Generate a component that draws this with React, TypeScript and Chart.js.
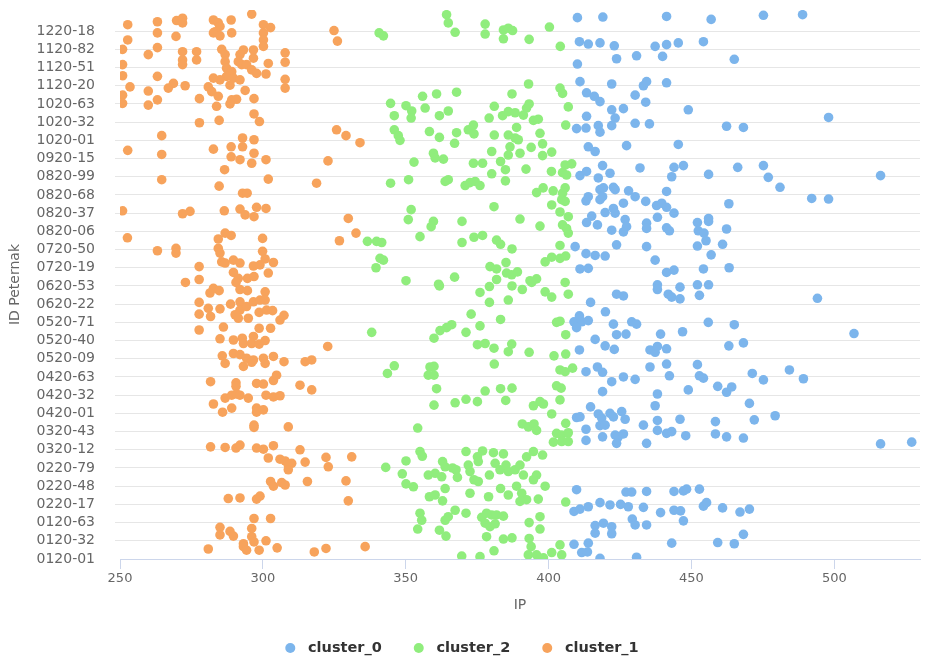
import { useEffect, useRef } from 'react';
import { Chart, registerables } from 'chart.js';

Chart.register(...registerables);

// Y axis: farmer IDs (row index of the ID list); one tick label every 31 IDs
const TICK_LABELS = [
  '0120-01', '0120-32', '0120-63', '0220-17', '0220-48', '0220-79', '0320-12', '0320-43',
  '0420-01', '0420-32', '0420-63', '0520-09', '0520-40', '0520-71', '0620-22', '0620-53',
  '0720-19', '0720-50', '0820-06', '0820-37', '0820-68', '0820-99', '0920-15', '1020-01',
  '1020-32', '1020-63', '1120-20', '1120-51', '1120-82', '1220-18',
];
const ROWS_PER_TICK = 31;
const ROW_MAX = 935;

const IP_MIN = 250;
const IP_MAX = 530;
const IP_STEP = 50;

const SERIES_NAMES = ['cluster_0', 'cluster_2', 'cluster_1'];
const SERIES_COLORS = ['#7cb5ec', '#90ed7d', '#f7a35c'];

// [IP, ID row]
const CLUSTER_0: [number, number][] = [
  [410.1,922],[419.0,923],[410.8,881],[413.9,877],[418.0,879],[423.0,874],[423.8,852],[430.8,857],[410.1,843],[411.0,813],[422.1,809],[413.3,794],[416.0,788],[418.0,779],[430.3,790],[433.2,806],[434.3,813],[434.0,778],[422.1,765],[426.2,767],[423.3,751],[422.1,738],[413.3,754],[409.8,733],[413.1,734],[417.4,738],[418.0,727],[430.3,742],[435.3,741],[413.9,702],[416.3,694],[427.3,704],[411.0,653],[413.3,660],[418.9,670],[417.4,649],[421.5,657],[432.0,666],[418.0,629],[419.2,632],[418.0,612],[418.9,617],[422.7,633],[423.3,629],[413.9,617],[413.1,610],[428.0,627],[430.3,617],[434.0,609],[426.2,606],[422.7,597],[415.1,584],[419.8,590],[423.3,589],[413.3,573],[417.1,569],[422.1,560],[426.8,578],[427.3,566],[426.2,557],[434.3,572],[434.3,563],[409.3,532],[423.8,535],[413.1,520],[416.3,517],[419.8,516],[434.3,532],[411.0,494],[413.9,495],
  [441.3,924],[456.9,919],[475.2,926],[488.9,927],[437.3,873],[441.3,876],[445.4,879],[454.2,881],[439.9,856],[465.0,851],[441.3,811],[448.9,765],[498.0,752],[462.3,737],[468.2,735],[445.4,706],[443.9,667],[447.2,670],[443.1,651],[456.0,655],[466.2,667],[475.2,670],[476.9,650],[481.0,633],[516.2,653],[441.3,626],[437.8,602],[439.6,606],[441.3,599],[443.9,589],[463.1,605],[492.1,614],[498.0,613],[438.1,582],[452.1,573],[456.0,580],[456.0,575],[441.3,564],[442.3,559],[452.4,559],[454.4,555],[455.1,542],[462.3,562],[452.1,533],[460.9,536],[456.9,518],[437.3,509],[441.3,488],[443.9,492],[454.2,494],[463.2,496],
  [438.1,467],[438.1,459],[446.0,463],[452.1,467],[456.0,467],[441.9,451],[443.1,446],[446.0,443],[452.8,449],[494.1,444],[455.9,403],[465.0,399],[439.2,383],[446.9,387],[506.9,384],[435.5,356],[437.3,352],[438.1,362],[441.3,358],[463.1,363],[468.2,368],[435.5,327],[441.3,332],[442.3,312],[452.1,331],[452.8,312],[454.2,308],[471.3,316],[475.2,305],[484.3,322],[489.2,307],[448.9,288],[459.2,294],[462.3,284],[464.1,293],[438.1,281],[437.3,261],[470.3,265],[438.1,236],[438.1,219],[441.3,214],[443.1,217],[446.0,238],[448.0,210],[458.4,234],[458.4,213],[462.3,208],[468.2,206],[472.0,237],[479.3,244],[516.2,196],[527.1,199],[443.9,115],[447.2,116],[448.3,119],[452.8,119],[454.2,90],[455.3,96],[460.9,87],[439.2,79],[443.9,83],[446.2,82],[467.0,80],[470.3,85],[447.2,65],[468.2,42],[443.1,27],[459.2,28],[465.0,26],
  [423.8,451],[426.2,448],[414.7,437],[419.9,421],[408.9,404],[410.8,414],[411.6,404],[409.8,394],[413.9,406],[422.7,400],[429.1,404],[430.8,400],[416.3,374],[423.8,382],[427.1,383],[419.8,363],[423.0,357],[410.8,356],[413.1,319],[417.1,327],[418.9,318],[422.1,302],[426.2,310],[430.3,306],[418.9,285],[414.7,259],[409.8,241],[411.0,242],[413.1,221],[413.1,202],[417.4,247],[418.6,240],[418.0,227],[419.8,228],[418.9,208],[421.5,248],[422.7,242],[425.6,251],[426.8,238],[423.3,211],[424.4,208],[426.2,213],[423.8,197],[433.2,228],[434.3,197],[409.8,118],[408.9,81],[411.0,85],[413.9,89],[418.0,96],[421.5,92],[427.1,114],[429.1,114],[434.3,115],[425.2,93],[427.9,89],[433.2,88],[416.3,57],[419.2,61],[422.1,55],[416.3,44],[422.1,43],[429.3,68],[430.3,58],[434.3,58],[408.9,25],[411.6,11],[413.6,12],[413.9,27],[418.0,1],[430.8,3],
];

const CLUSTER_2: [number, number][] = [
  [340.7,896],[336.6,541],[339.8,541],[341.0,512],[339.6,496],[338.1,386],
  [364.3,927],[364.9,913],[367.3,897],[342.2,891],[377.8,911],[377.8,894],[384.2,901],[385.9,904],[387.4,900],[384.2,886],[393.2,885],[400.3,906],[404.1,873],[393.0,809],[404.0,802],[404.9,793],[367.8,795],[360.8,792],[355.9,788],[344.7,776],[350.1,772],[352.1,763],[351.9,751],[346.0,755],[356.8,768],[361.8,755],[364.9,763],[387.2,792],[381.0,771],[379.2,751],[383.9,755],[385.9,762],[388.3,760],[391.2,756],[392.3,768],[393.2,775],[394.7,747],[396.4,749],[406.9,770],[406.0,739],[346.0,731],[347.4,721],[348.0,713],[358.3,728],[361.8,718],[367.8,726],[367.1,708],[371.9,731],[373.7,739],[373.9,724],[381.0,722],[388.8,735],[385.9,722],[388.3,717],[389.4,714],[386.5,702],[385.9,688],[390.0,691],[393.9,701],[397.0,725],[397.9,707],[397.9,687],[401.1,693],[380.1,694],[383.2,677],[359.7,691],[360.3,683],[363.2,681],[352.9,676],[373.7,674],[376.9,674],[384.9,663],[384.9,644],[380.1,656],[392.1,664],[401.0,660],[405.8,671],[408.1,673],[404.9,658],[406.3,654],[344.7,640],[351.0,646],[363.8,643],[364.9,646],[370.8,636],[372.5,641],[374.3,643],[376.0,636],[395.8,624],[398.1,632],[401.6,627],[404.9,623],[405.8,632],[404.6,612],[405.8,609],[380.9,600],[401.1,603],[351.9,595],[350.9,578],[359.7,575],[358.9,566],[369.7,575],[390.0,579],[397.0,567],[404.0,591],[406.9,583],[404.9,569],[406.3,563],[406.9,555],[355.0,549],[341.6,539],[369.7,539],[373.9,548],[376.9,551],[381.8,543],[383.2,536],[387.2,528],[404.0,534],[342.2,509],[379.5,498],[381.8,494],[385.1,505],[385.3,487],[387.1,484],[389.1,489],[398.8,506],[401.1,514],[404.0,512],[406.0,516],[350.1,474],[361.5,468],[367.1,480],[381.8,476],[393.5,474],[395.8,477],[405.8,471],
  [361.8,465],[376.0,454],[379.3,464],[379.3,437],[387.2,465],[390.8,459],[394.1,471],[385.9,441],[398.8,455],[401.1,446],[406.9,451],[372.9,417],[383.2,408],[376.0,397],[366.1,399],[364.3,394],[362.0,389],[359.9,376],[371.1,386],[402.8,403],[404.0,405],[406.0,382],[375.1,365],[377.8,367],[380.9,359],[385.9,353],[387.1,366],[393.2,352],[401.9,346],[406.0,349],[346.0,329],[343.6,316],[358.5,327],[359.9,328],[357.9,313],[359.9,313],[381.0,332],[404.0,322],[405.8,319],[408.4,325],[360.8,290],[377.8,286],[383.2,290],[387.2,291],[385.0,270],[402.8,295],[404.4,291],[359.9,262],[367.3,266],[371.1,272],[375.1,268],[394.7,261],[397.0,268],[398.2,264],[404.0,271],[401.1,247],[354.2,223],[390.8,230],[392.9,225],[394.9,230],[395.8,219],[406.0,231],[402.8,214],[404.6,211],[406.9,215],[401.7,199],[404.6,200],[406.9,200],[355.0,183],[355.8,175],[350.1,167],[343.0,156],[348.8,145],[362.9,166],[363.8,157],[366.4,155],[367.6,152],[357.9,143],[360.3,146],[362.6,140],[368.1,139],[350.1,128],[352.7,123],[363.8,120],[371.1,183],[375.1,174],[376.9,184],[380.7,181],[384.2,179],[375.4,166],[371.9,160],[372.5,149],[379.3,143],[381.3,163],[383.0,152],[385.1,160],[385.9,149],[388.3,152],[390.0,160],[392.3,174],[394.7,183],[397.9,177],[391.2,143],[395.8,143],[394.7,135],[398.8,124],[373.9,135],[375.4,132],[372.5,112],[383.2,120],[385.9,109],[388.8,124],[390.6,112],[392.3,101],[396.4,102],[390.0,98],[358.3,106],[360.3,109],[362.9,99],[379.0,106],[406.0,97],[355.0,78],[355.6,66],[354.2,51],[367.3,83],[364.9,72],[363.8,66],[371.1,78],[376.6,71],[378.3,78],[380.1,75],[381.8,75],[384.2,73],[377.8,61],[379.5,55],[381.3,60],[378.3,38],[361.8,49],[364.1,39],[393.2,62],[397.0,72],[397.0,51],[393.2,35],[384.2,34],[387.2,36],[380.9,14],[393.9,21],[392.9,7],[395.8,7],[398.2,2],[401.1,11],[404.0,24],[404.6,7],[369.6,5],[376.0,4],
];

const CLUSTER_1: [number, number][] = [
  [252.7,910],[263.1,915],[269.8,917],[271.9,921],[271.9,913],[282.7,918],[284.4,913],[285.0,907],[283.3,898],[282.7,896],[288.9,918],[296.1,928],[300.2,910],[302.7,905],[289.1,896],[263.1,896],[252.7,884],[269.6,890],[285.0,891],[300.2,896],[300.2,884],[300.2,873],[324.9,900],[326.1,882],[250.9,868],[263.1,871],[259.9,859],[271.9,864],[271.9,850],[271.9,842],[276.8,864],[276.8,850],[285.6,868],[286.8,859],[286.8,847],[293.2,867],[292.0,859],[291.4,847],[292.6,842],[296.7,867],[296.7,853],[307.8,862],[307.8,846],[301.9,844],[250.9,842],[250.9,823],[287.3,836],[289.1,830],[287.3,822],[289.7,819],[292.0,816],[285.0,816],[282.7,819],[288.5,807],[294.3,842],[296.1,833],[297.8,827],[301.1,826],[263.1,822],[307.8,817],[307.8,802],[253.5,804],[268.7,810],[266.9,802],[272.8,806],[280.9,804],[282.1,796],[293.8,798],[259.9,797],[250.9,790],[250.9,776],[263.1,782],[259.9,773],[277.8,784],[284.4,788],[283.8,771],[289.1,782],[290.8,783],[288.5,775],[296.9,784],[296.9,758],[298.8,745],[277.8,743],[284.7,747],[325.8,731],[329.1,721],[334.0,709],[264.6,721],[252.7,696],[264.6,689],[282.7,698],[288.9,702],[288.9,685],[292.9,717],[292.9,702],[296.9,714],[296.9,691],[292.0,680],[296.1,674],[301.1,680],[322.8,678],[286.6,663],[264.6,646],[301.9,647],[318.8,640],[284.7,635],[292.9,623],[294.5,623],
  [250.9,593],[271.9,588],[274.5,592],[286.5,593],[292.0,596],[293.8,586],[296.9,583],[297.8,599],[301.1,597],[329.9,580],[332.6,555],[326.8,542],[252.6,547],[263.1,525],[269.6,529],[269.6,521],[286.8,555],[288.9,551],[284.4,545],[299.9,546],[284.4,529],[285.0,521],[285.6,506],[286.8,504],[289.7,509],[292.0,504],[299.9,524],[300.8,511],[303.7,505],[296.7,499],[299.0,501],[301.9,487],[277.7,498],[277.7,476],[272.9,471],[289.7,488],[291.4,478],[290.6,471],[294.6,478],[296.9,481],[282.7,461],[281.5,453],[284.7,457],[292.0,459],[294.6,457],[300.8,455],[277.7,437],[277.7,417],[280.9,427],[281.7,413],[285.0,426],[288.7,434],[292.0,438],[292.0,424],[290.3,416],[294.3,430],[296.7,438],[299.0,441],[300.8,441],[294.9,410],[291.4,410],[298.7,420],[301.3,424],[303.4,423],[306.0,407],[307.4,415],[277.7,390],[286.2,395],[285.0,375],[298.7,393],[302.7,393],[289.7,373],[292.8,376],[293.2,367],[296.7,379],[296.1,367],[298.7,366],[300.8,372],[322.7,362],[285.8,346],[286.8,333],[289.7,350],[292.0,348],[293.2,328],[294.3,342],[296.7,339],[296.1,335],[300.2,342],[300.8,333],[303.7,345],[307.4,336],[314.8,336],[317.1,339],[281.7,302],[290.6,300],[290.6,294],[297.8,299],[300.2,298],[303.7,304],[304.8,313],[313.0,296],[317.1,288],
  [282.7,264],[286.8,274],[289.1,279],[290.8,281],[292.0,279],[294.9,274],[285.9,250],[289.1,257],[297.8,257],[297.8,250],[300.2,254],[301.1,279],[303.7,276],[306.0,278],[296.9,228],[296.9,224],[308.9,225],[281.7,191],[286.8,190],[290.6,189],[292.0,194],[297.8,189],[300.2,187],[303.7,193],[313.0,186],[301.9,172],[306.0,170],[307.8,167],[308.9,160],[310.1,163],[308.9,152],[314.8,165],[322.1,173],[322.9,157],[331.1,174],[302.7,132],[303.7,124],[306.6,130],[307.8,126],[315.6,132],[329.1,133],[287.9,103],[292.0,104],[297.8,102],[299.0,107],[329.9,99],[296.9,69],[302.7,69],[285.0,54],[285.0,41],[288.5,47],[289.7,39],[296.1,52],[296.1,38],[296.9,29],[293.2,26],[301.1,31],[280.9,17],[293.2,21],[294.3,15],[298.7,15],[305.0,19],[318.0,12],[322.1,18],[335.8,21],
];

const SERIES_DATA = [CLUSTER_0, CLUSTER_2, CLUSTER_1];

const FONT = '"DejaVu Sans", sans-serif';

const bottomLegend = {
  id: 'bottomLegend',
  afterDraw(chart: any) {
    const ctx = chart.ctx as CanvasRenderingContext2D;
    const r = 5;
    const textGap = 12.7;
    const itemGap = 32;
    ctx.save();
    ctx.font = `bold 14.5px ${FONT}`;
    ctx.textBaseline = 'middle';
    ctx.textAlign = 'left';
    const items = chart.data.datasets.map((d: any) => ({
      text: d.label as string,
      color: d.backgroundColor as string,
      w: ctx.measureText(d.label).width,
    }));
    const total = items.reduce((s: number, it: any, i: number) => s + 2 * r + textGap + it.w + (i ? itemGap : 0), 0);
    let x = chart.width / 2 - 4.5 - total / 2;
    const y = chart.height - 9;
    items.forEach((it: any) => {
      ctx.fillStyle = it.color;
      ctx.beginPath();
      ctx.arc(x + r, y, r, 0, Math.PI * 2);
      ctx.fill();
      ctx.fillStyle = '#333333';
      ctx.fillText(it.text, x + 2 * r + textGap, y + 0.5);
      x += 2 * r + textGap + it.w + itemGap;
    });
    ctx.restore();
  },
};

export default function App() {
  const ref = useRef<HTMLCanvasElement | null>(null);

  useEffect(() => {
    if (!ref.current) return;
    Chart.defaults.font.family = FONT;
    const chart = new Chart(ref.current, {
      type: 'scatter',
      data: {
        datasets: SERIES_NAMES.map((name, i) => ({
          label: name,
          data: SERIES_DATA[i].map(([x, y]) => ({ x, y })),
          backgroundColor: SERIES_COLORS[i],
          borderColor: SERIES_COLORS[i],
          borderWidth: 0,
          pointRadius: 4.8,
          pointHoverRadius: 4.8,
          order: -i,
        })),
      },
      options: {
        responsive: false,
        animation: false,
        devicePixelRatio: 1,
        layout: { padding: { left: 0, right: 13, top: 10, bottom: 42 } },
        plugins: {
          legend: { display: false },
          tooltip: { enabled: false },
        },
        scales: {
          x: {
            type: 'linear',
            position: 'bottom',
            min: IP_MIN,
            max: IP_MAX,
            ticks: { stepSize: IP_STEP, includeBounds: false, color: '#666666', font: { size: 13 }, padding: 2 },
            grid: { drawOnChartArea: false, color: '#ccd6eb', tickLength: 10 },
            border: { color: '#ccd6eb' },
            title: { display: true, text: 'IP', color: '#666666', font: { size: 14 }, padding: { top: 0, bottom: 1 } },
            afterFit: (axis: any) => {
              axis.height = 56;
              axis.paddingLeft = 0;
              axis.paddingRight = 0;
            },
          },
          y: {
            type: 'linear',
            min: 0,
            max: ROW_MAX,
            afterBuildTicks: (axis: any) => {
              axis.ticks = TICK_LABELS.map((_, i) => ({ value: i * ROWS_PER_TICK }));
            },
            ticks: {
              autoSkip: false,
              color: '#666666',
              font: { size: 14 },
              padding: 20,
              callback: (v: any) => TICK_LABELS[Math.round(Number(v) / ROWS_PER_TICK)] ?? '',
            },
            grid: {
              color: (c: any) => (c.tick && c.tick.value === 0 ? 'rgba(0,0,0,0)' : '#e6e6e6'),
              tickLength: 5,
            },
            border: { display: false },
            title: { display: true, text: 'ID Peternak', color: '#666666', font: { size: 14 }, padding: { top: 7, bottom: 0 } },
            afterFit: (axis: any) => {
              axis.width = 120;
              axis.paddingTop = 0;
              axis.paddingBottom = 0;
            },
          },
        },
      },
      plugins: [bottomLegend],
    });
    return () => chart.destroy();
  }, []);

  return (
    <div style={{ position: 'absolute', left: 0, top: 0, width: 933, height: 657, background: '#ffffff' }}>
      <canvas ref={ref} width={933} height={657} />
    </div>
  );
}
